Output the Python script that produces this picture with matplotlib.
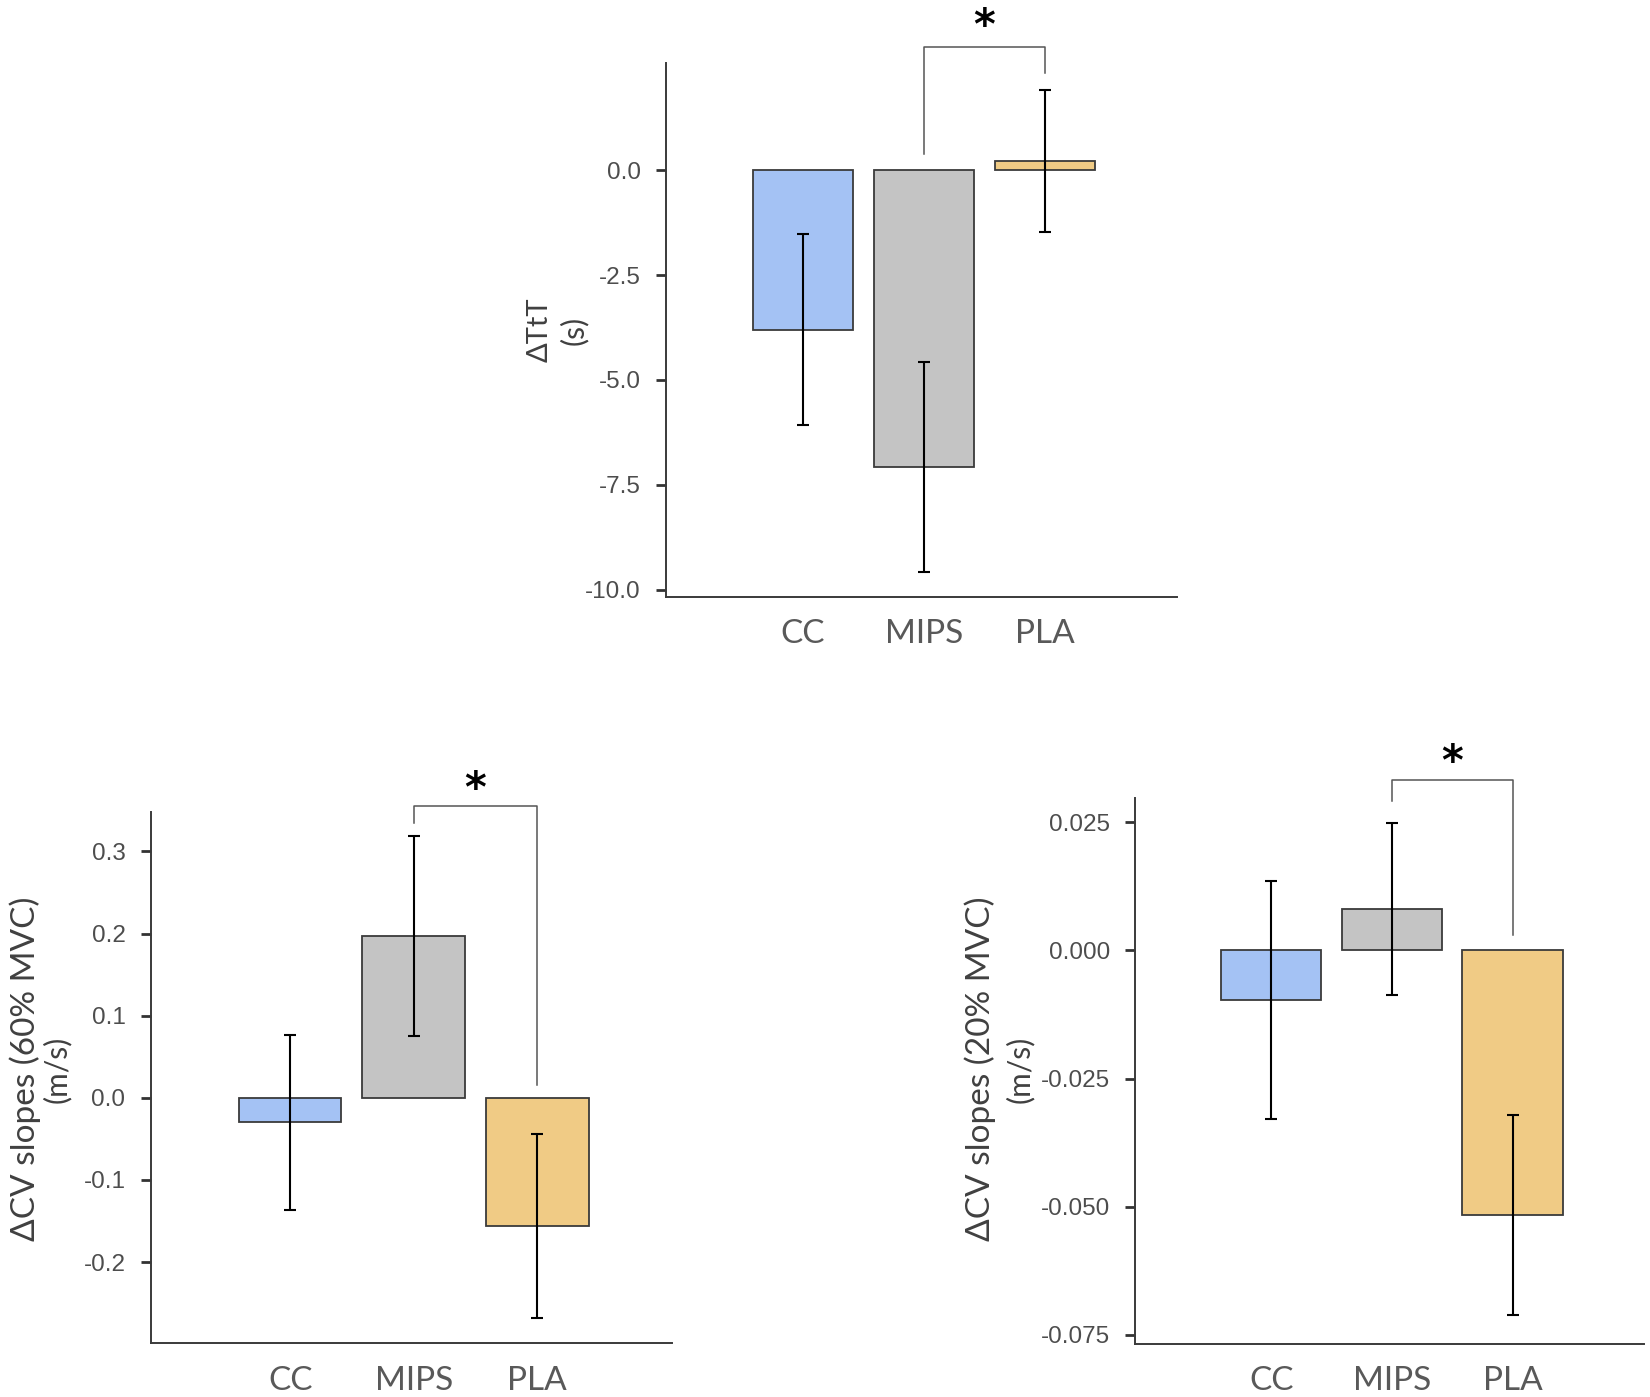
import numpy as np
import matplotlib
matplotlib.use('Agg')
import matplotlib.pyplot as plt

groups = ['CC', 'MIPS', 'PLA']
colors = ['#A4C2F4', '#C4C4C4', '#F0CB85']

## change in time to task failure (s)
ttt_mean = [-3.80, -7.08, 0.21]
ttt_err = [2.28, 2.50, 1.69]

## CV slopes at 60% MVC (m/s)
cv60_mean = [-0.030, 0.197, -0.156]
cv60_err = [0.107, 0.122, 0.112]

## CV slopes at 20% MVC (m/s)
cv20_mean = [-0.0097, 0.0081, -0.0517]
cv20_err = [0.0232, 0.0167, 0.0195]

W, H = 1650, 1397
fig = plt.figure(figsize=(W / 100, H / 100), dpi=100)

def rect(l, t, r, b):
    # pixel box -> figure fraction
    return [l / W, 1 - b / H, (r - l) / W, (b - t) / H]

def panel(box, means, errs, ylim, yticks, fmt, bracket, star_y):
    ax = fig.add_axes(rect(*box))
    x = np.arange(len(groups))
    ax.bar(x, means, width=0.83, color=colors, edgecolor='#3a3a3a', linewidth=1.3, zorder=2)
    ax.errorbar(x, means, yerr=errs, fmt='none', ecolor='black', elinewidth=1.5,
                capsize=4, capthick=1.5, zorder=3)
    ax.set_xlim(-1.13, 3.09)
    ax.set_ylim(*ylim)
    ax.set_yticks(yticks)
    ax.set_yticklabels([fmt % v for v in yticks], fontfamily='Liberation Sans',
                       fontsize=17.5, color='#4D4D4D')
    ax.set_xticks(x)
    ax.set_xticklabels(groups, fontfamily='Lato', fontsize=24, color='#595959')
    ax.tick_params(axis='x', which='major', length=0, pad=16)
    ax.set_xticks([1], minor=True)
    ax.tick_params(axis='x', which='minor', length=7, width=2, color='#333333')
    ax.tick_params(axis='y', length=7, width=2, color='#333333', pad=11)
    for s in ['top', 'right']:
        ax.spines[s].set_visible(False)
    for s in ['left', 'bottom']:
        ax.spines[s].set_color('#3a3a3a')
        ax.spines[s].set_linewidth(1.4)
    # significance bracket between MIPS and PLA
    top, left_end, right_end = bracket
    ax.plot([1, 1, 2, 2], [left_end, top, top, right_end], color='#555555',
            linewidth=1.1, clip_on=False)
    ax.text(1.5, star_y, '*', ha='center', va='center', fontsize=30,
            fontweight='bold', fontfamily='DejaVu Sans', clip_on=False)
    return ax

panel((666, 63, 1177, 597), ttt_mean, ttt_err, (-10.17, 2.55),
      [-10, -7.5, -5, -2.5, 0], '%.1f', (2.93, 0.39, 2.31), 3.4)
panel((150.5, 812, 672, 1343.3), cv60_mean, cv60_err, (-0.299, 0.348),
      [-0.2, -0.1, 0.0, 0.1, 0.2, 0.3], '%.1f', (0.355, 0.334, 0.0158), 0.375)
panel((1135, 798.3, 1644, 1344), cv20_mean, cv20_err, (-0.0768, 0.0297),
      [-0.075, -0.05, -0.025, 0.0, 0.025], '%.3f', (0.0332, 0.0291, 0.0030), 0.0365)

def ylabel(x1, x2, yc, line1, line2, size1):
    fig.text(x1 / W, 1 - yc / H, line1, rotation=90, ha='center', va='center',
             fontfamily='Lato', fontsize=size1, color='#404040')
    fig.text(x2 / W, 1 - yc / H, line2, rotation=90, ha='center', va='center',
             fontfamily='Lato', fontsize=21.5, color='#404040')

ylabel(540, 574, 330, 'ΔTtT', '(s)', 21)
ylabel(25, 57, 1069, 'ΔCV slopes (60% MVC)', '(m/s)', 24)
ylabel(980, 1020, 1069, 'ΔCV slopes (20% MVC)', '(m/s)', 24)

plt.savefig('out.png', dpi=100)
